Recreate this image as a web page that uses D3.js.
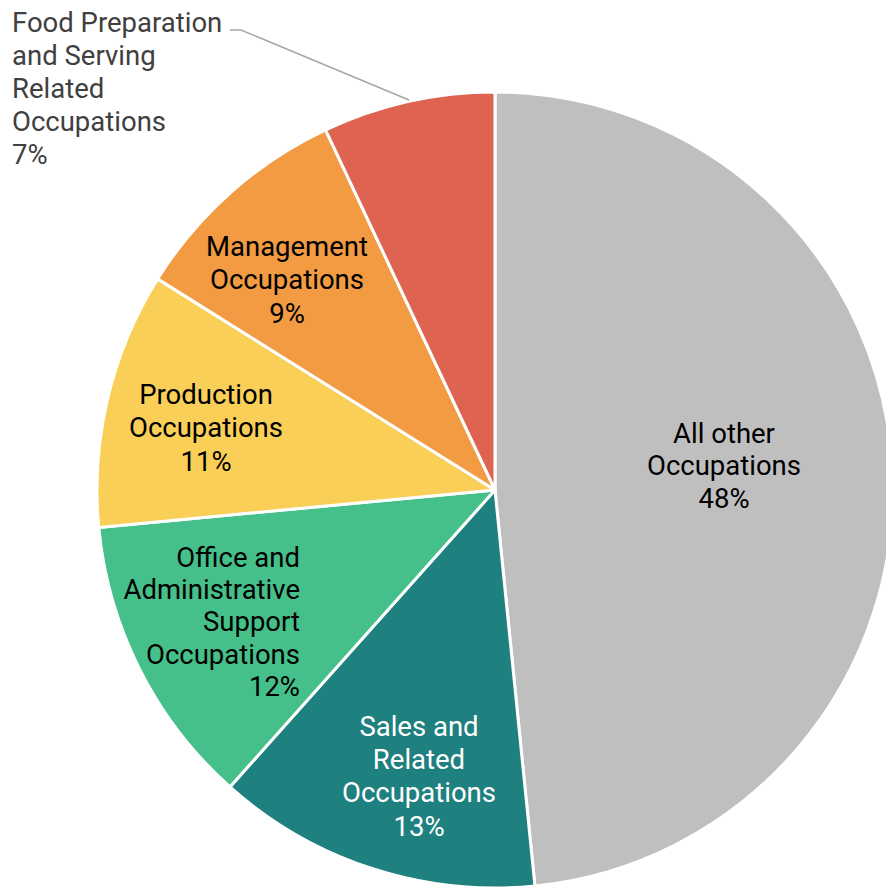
<!DOCTYPE html>
<html>
<head>
<meta charset="utf-8">
<script src="https://cdn.jsdelivr.net/npm/d3@7"></script>
<style>
html,body{margin:0;padding:0;background:#fff;}
svg{display:block;}
text{font-family:"Roboto","Liberation Sans",sans-serif;}
</style>
</head>
<body>
<svg id="chart" width="886" height="890"></svg>
<script>
// Data
const categories = ["All other Occupations","Sales and Related Occupations","Office and Administrative Support Occupations","Production Occupations","Management Occupations","Food Preparation and Serving Related Occupations"];
const values = [48.4, 13.2, 11.9, 10.4, 9.1, 7.0];
const percentLabels = ["48%","13%","12%","11%","9%","7%"];
const labelLines = [
  ["All other","Occupations"],
  ["Sales and","Related","Occupations"],
  ["Office and","Administrative","Support","Occupations"],
  ["Production","Occupations"],
  ["Management","Occupations"],
  ["Food Preparation","and Serving","Related","Occupations"]
];
const colors = ["#BFBFBF","#1F8080","#45C08A","#F9CF58","#F29B42","#DE6451"];

const svg = d3.select("#chart");
const cx = 495, cy = 490, R = 398;
const g = svg.append("g").attr("transform", `translate(${cx},${cy})`);

const pie = d3.pie().sort(null).value(d => d);
const arcs = pie(values);
const arc = d3.arc().innerRadius(0).outerRadius(R);

g.selectAll("path").data(arcs).join("path")
  .attr("d", arc)
  .attr("fill", (d,i) => colors[i])
  .attr("stroke", "#fff")
  .attr("stroke-width", 3)
  .attr("stroke-linejoin", "round");

// label placement (absolute centers / anchors)
const labelSpec = [
  {x:724, y:433, anchor:"middle", color:"#000", dy:32.5},
  {x:419, y:726, anchor:"middle", color:"#fff", dy:33.3},
  {x:300, y:557, anchor:"end", color:"#000", dy:32.3},
  {x:206, y:394, anchor:"middle", color:"#000", dy:33.5},
  {x:287, y:246, anchor:"middle", color:"#000", dy:33.5},
  {x:12, y:22, anchor:"start", color:"#404040", dy:33}
];

const fs = 27.5;
labelLines.forEach((lines, i) => {
  const s = labelSpec[i];
  const all = lines.concat([percentLabels[i]]);
  const t = svg.append("text")
    .attr("text-anchor", s.anchor)
    .attr("fill", s.color)
    .style("font-size", fs + "px");
  all.forEach((ln, k) => {
    t.append("tspan").attr("x", s.x).attr("y", s.y + k*s.dy).attr("dy", "0.35em").text(ln);
  });
});

// leader line for Food label
svg.append("polyline")
  .attr("points", "230,30 241,30 409,100")
  .attr("fill", "none")
  .attr("stroke", "#A6A6A6")
  .attr("stroke-width", 1.5);
</script>
</body>
</html>
